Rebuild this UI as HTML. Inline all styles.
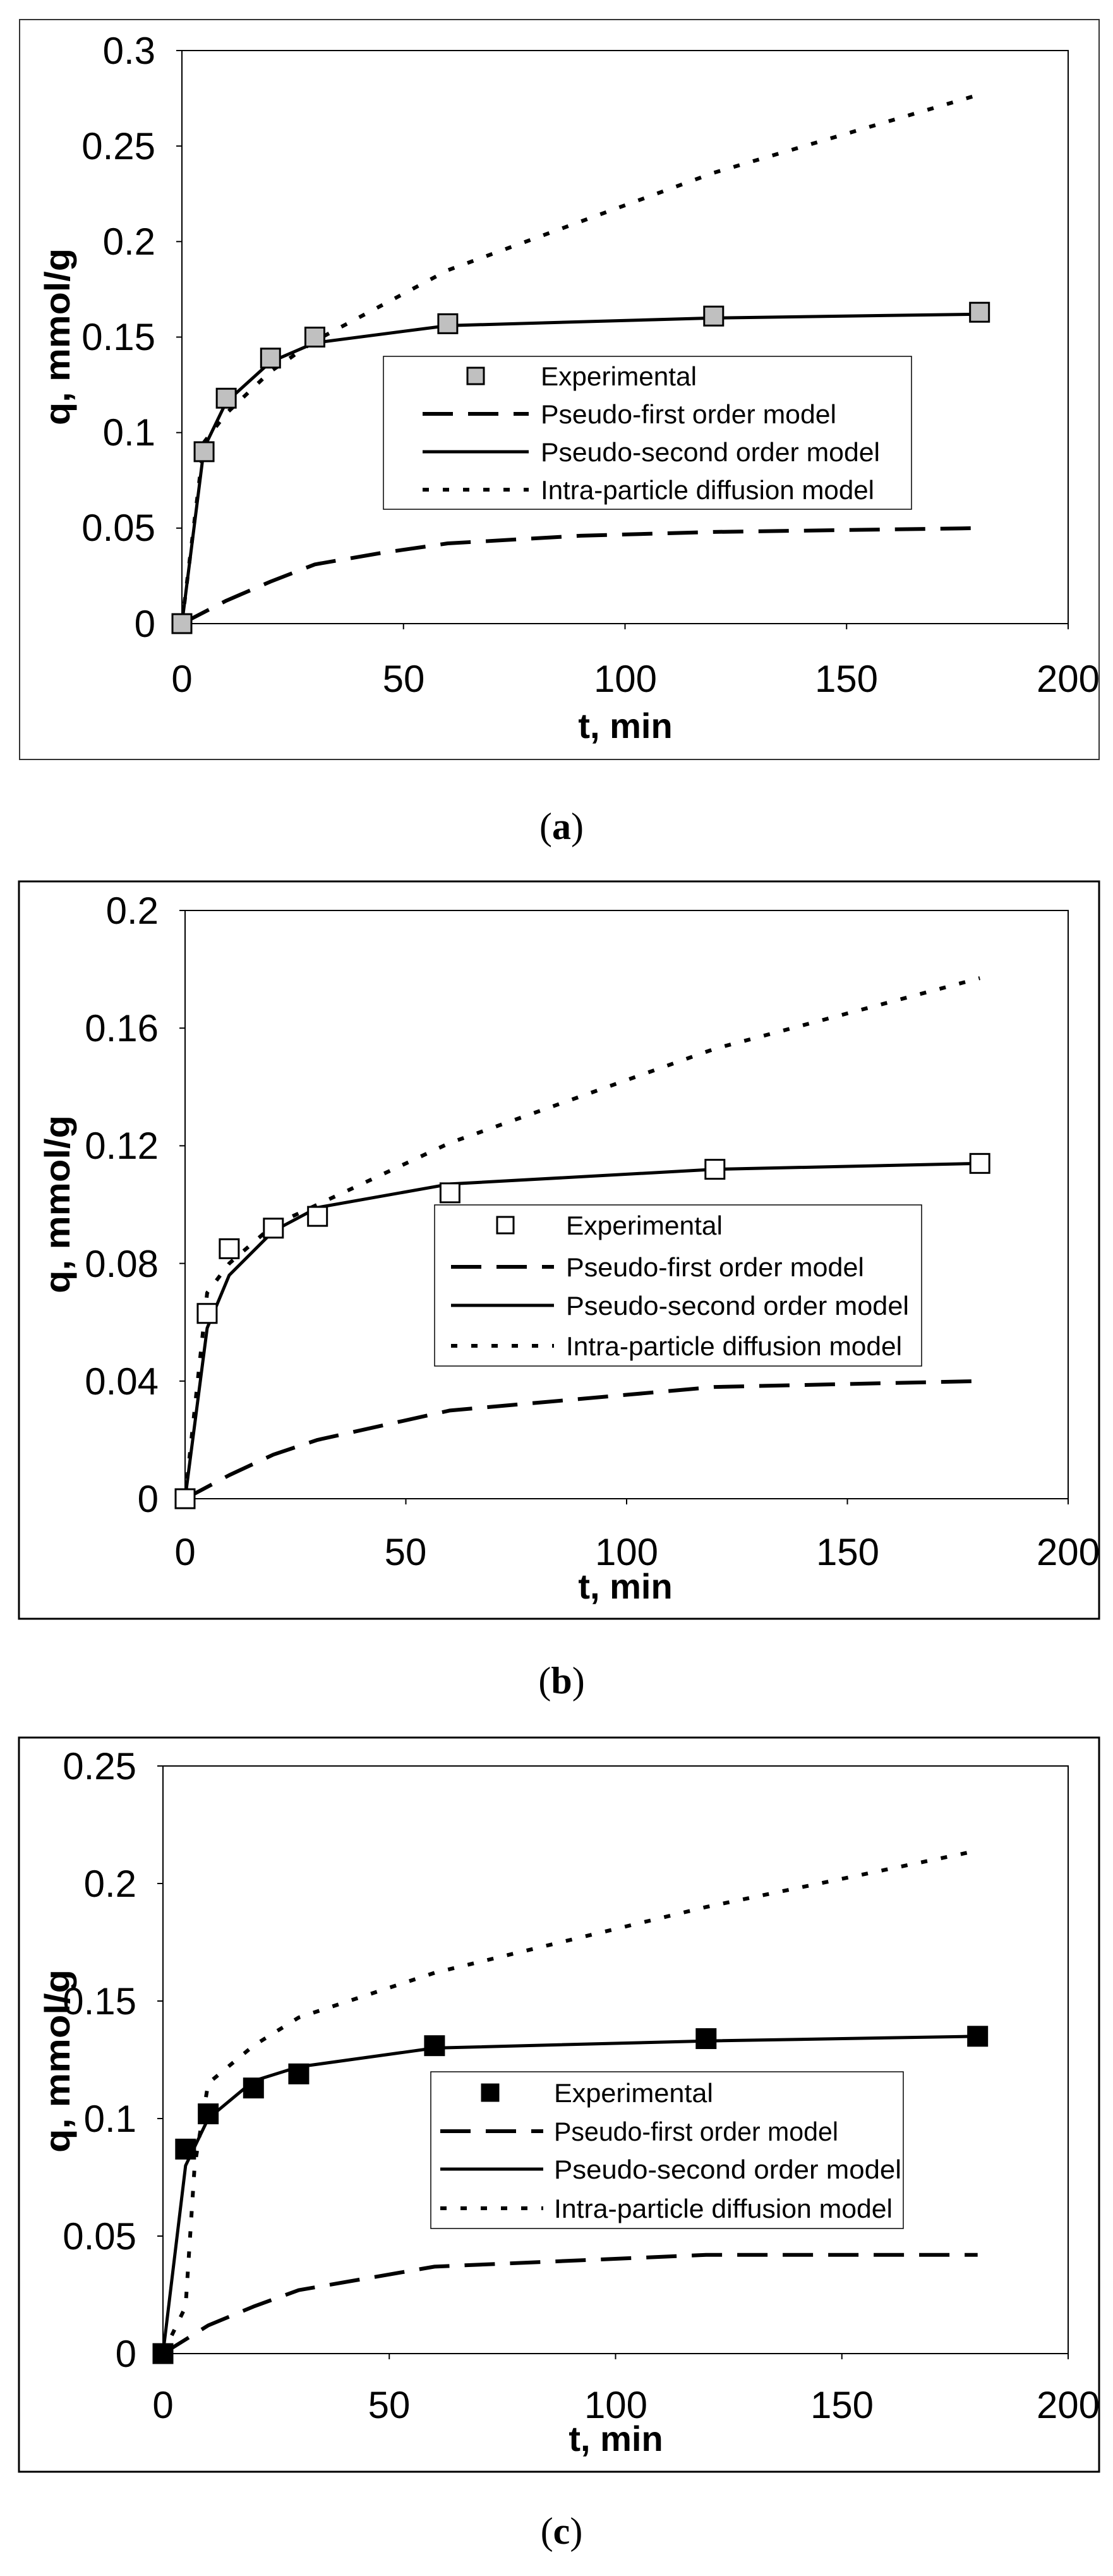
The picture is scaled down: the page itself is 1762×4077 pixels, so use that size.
<!DOCTYPE html>
<html><head><meta charset="utf-8"><style>
html,body{margin:0;padding:0;background:#fff;width:1762px;height:4077px;overflow:hidden}
svg{display:block}
.t{font-family:"Liberation Sans",Arial,sans-serif;font-size:60px;fill:#000}
.lg{font-family:"Liberation Sans",Arial,sans-serif;font-size:42px;fill:#000}
.ax{font-family:"Liberation Sans",Arial,sans-serif;font-size:56px;font-weight:bold;fill:#000}
.cap{font-family:"Liberation Serif",serif;font-size:60px;fill:#000}
</style></head><body>
<svg id="s" xmlns="http://www.w3.org/2000/svg" width="1762" height="4077" viewBox="0 0 1762 4077">
<rect width="1762" height="4077" fill="#fff"/>
<rect x="31" y="31" width="1709" height="1171" fill="none" stroke="#333" stroke-width="2"/>
<rect x="30" y="1395" width="1710" height="1167" fill="none" stroke="#000" stroke-width="3"/>
<rect x="30" y="2750" width="1710" height="1162" fill="none" stroke="#000" stroke-width="3"/>
<g id="g"></g>
<g class="t" text-anchor="end">
<text x="246" y="101">0.3</text><text x="246" y="252">0.25</text><text x="246" y="403">0.2</text><text x="246" y="554">0.15</text><text x="246" y="705">0.1</text><text x="246" y="856">0.05</text><text x="246" y="1008">0</text>
</g>
<g class="t" text-anchor="middle">
<text x="288" y="1095">0</text><text x="639" y="1095">50</text><text x="990" y="1095">100</text><text x="1340" y="1095">150</text><text x="1691" y="1095">200</text>
</g>
<text class="ax" x="990" y="1168" text-anchor="middle">t, min</text>
<text class="ax" transform="translate(110,533) rotate(-90)" text-anchor="middle" textLength="280" lengthAdjust="spacingAndGlyphs">q, mmol/g</text>
<rect x="607" y="564" width="836" height="242" fill="#fff" stroke="#000" stroke-width="1.5"/>
<g class="lg">
<text x="856" y="610" textLength="247" lengthAdjust="spacingAndGlyphs">Experimental</text>
<text x="856" y="670" textLength="468" lengthAdjust="spacingAndGlyphs">Pseudo-first order model</text>
<text x="856" y="730" textLength="537" lengthAdjust="spacingAndGlyphs">Pseudo-second order model</text>
<text x="856" y="790" textLength="528" lengthAdjust="spacingAndGlyphs">Intra-particle diffusion model</text>
</g>
<text class="cap" x="889" y="1328" text-anchor="middle">(<tspan font-weight="bold">a</tspan>)</text>
<g class="t" text-anchor="end">
<text x="251" y="1462">0.2</text><text x="251" y="1648">0.16</text><text x="251" y="1834">0.12</text><text x="251" y="2021">0.08</text><text x="251" y="2207">0.04</text><text x="251" y="2393">0</text>
</g>
<g class="t" text-anchor="middle">
<text x="293" y="2477">0</text><text x="642" y="2477">50</text><text x="992" y="2477">100</text><text x="1342" y="2477">150</text><text x="1691" y="2477">200</text>
</g>
<text class="ax" x="990" y="2530" text-anchor="middle">t, min</text>
<text class="ax" transform="translate(110,1906) rotate(-90)" text-anchor="middle" textLength="282" lengthAdjust="spacingAndGlyphs">q, mmol/g</text>
<rect x="688" y="1907" width="771" height="255" fill="#fff" stroke="#000" stroke-width="1.5"/>
<g class="lg">
<text x="896" y="1954" textLength="248" lengthAdjust="spacingAndGlyphs">Experimental</text>
<text x="896" y="2020" textLength="472" lengthAdjust="spacingAndGlyphs">Pseudo-first order model</text>
<text x="896" y="2081" textLength="543" lengthAdjust="spacingAndGlyphs">Pseudo-second order model</text>
<text x="896" y="2145" textLength="532" lengthAdjust="spacingAndGlyphs">Intra-particle diffusion model</text>
</g>
<text class="cap" x="889" y="2680" text-anchor="middle">(<tspan font-weight="bold">b</tspan>)</text>
<g class="t" text-anchor="end">
<text x="216" y="2816">0.25</text><text x="216" y="3002">0.2</text><text x="216" y="3188">0.15</text><text x="216" y="3374">0.1</text><text x="216" y="3560">0.05</text><text x="216" y="3746">0</text>
</g>
<g class="t" text-anchor="middle">
<text x="258" y="3827">0</text><text x="616" y="3827">50</text><text x="975" y="3827">100</text><text x="1333" y="3827">150</text><text x="1691" y="3827">200</text>
</g>
<text class="ax" x="975" y="3879" text-anchor="middle">t, min</text>
<text class="ax" transform="translate(110,3262) rotate(-90)" text-anchor="middle" textLength="290" lengthAdjust="spacingAndGlyphs">q, mmol/g</text>
<rect x="682" y="3279" width="748" height="248" fill="#fff" stroke="#000" stroke-width="1.5"/>
<g class="lg">
<text x="877" y="3327" textLength="252" lengthAdjust="spacingAndGlyphs">Experimental</text>
<text x="877" y="3388" textLength="450" lengthAdjust="spacingAndGlyphs">Pseudo-first order model</text>
<text x="877" y="3448" textLength="550" lengthAdjust="spacingAndGlyphs">Pseudo-second order model</text>
<text x="877" y="3510" textLength="536" lengthAdjust="spacingAndGlyphs">Intra-particle diffusion model</text>
</g>
<text class="cap" x="889" y="4026" text-anchor="middle">(<tspan font-weight="bold">c</tspan>)</text>
<g id="leg"></g>
</svg>
<script>
var NS="http://www.w3.org/2000/svg";
function el(parent,tag,attrs){var e=document.createElementNS(NS,tag);for(var k in attrs)e.setAttribute(k,attrs[k]);parent.appendChild(e);return e;}
var g=document.getElementById('g'), leg=document.getElementById('leg');
var P=[
 {L:288,R:1691,T:80,B:987,ym:0.3,st:0.05,fill:'#c0c0c0',
  exp:[[0,0],[5,0.09],[10,0.118],[20,0.139],[30,0.15],[60,0.157],[120,0.161],[180,0.163]],
  pso:[[0,0],[5,0.092],[10,0.116],[20,0.137],[30,0.147],[60,0.156],[120,0.16],[180,0.162]],
  pfo:[[0,0],[10,0.012],[20,0.022],[30,0.031],[45,0.037],[60,0.042],[90,0.046],[120,0.048],[180,0.05]],
  ipd:[[0,0],[5,0.095],[10,0.11],[20,0.132],[30,0.148],[60,0.185],[120,0.236],[180,0.277]],
  rows:[595,655,715,775],lx1:669,lx2:837,mx:753},
 {L:293,R:1691,T:1441,B:2372,ym:0.2,st:0.04,fill:'#fff',
  exp:[[0,0],[5,0.063],[10,0.085],[20,0.092],[30,0.096],[60,0.104],[120,0.112],[180,0.114]],
  pso:[[0,0],[5,0.058],[10,0.076],[20,0.091],[30,0.099],[60,0.107],[120,0.112],[180,0.114]],
  pfo:[[0,0],[10,0.008],[20,0.015],[30,0.02],[60,0.03],[120,0.038],[180,0.04]],
  ipd:[[0,0],[5,0.07],[10,0.08],[20,0.093],[30,0.1],[60,0.121],[120,0.153],[180,0.177]],
  rows:[1939,2005,2066,2130],lx1:714,lx2:877,mx:800},
 {L:258,R:1691,T:2795,B:3725,ym:0.25,st:0.05,fill:'#000',
  exp:[[0,0],[5,0.087],[10,0.102],[20,0.113],[30,0.119],[60,0.131],[120,0.134],[180,0.135]],
  pso:[[0,0],[5,0.08],[10,0.1],[20,0.116],[30,0.122],[60,0.13],[120,0.133],[180,0.135]],
  pfo:[[0,0],[10,0.012],[20,0.02],[30,0.027],[60,0.037],[120,0.042],[180,0.042]],
  ipd:[[0,0],[5,0.02],[7,0.08],[10,0.115],[20,0.131],[30,0.143],[60,0.162],[120,0.19],[180,0.214]],
  rows:[3312,3373,3433,3495],lx1:697,lx2:860,mx:776}
];
P.forEach(function(p){
 var X=function(t){return p.L+(p.R-p.L)*t/200;}, Y=function(q){return p.B-(p.B-p.T)*q/p.ym;};
 el(g,'rect',{x:p.L,y:p.T,width:p.R-p.L,height:p.B-p.T,fill:'none',stroke:'#000','stroke-width':2});
 for(var t=0;t<=200;t+=50)el(g,'line',{x1:X(t),y1:p.B,x2:X(t),y2:p.B+9,stroke:'#000','stroke-width':2});
 for(var q=0;q<=p.ym+1e-9;q+=p.st)el(g,'line',{x1:p.L-9,y1:Y(q),x2:p.L,y2:Y(q),stroke:'#000','stroke-width':2});
 function pl(d,dash,w){el(g,'polyline',{points:d.map(function(a){return X(a[0])+','+Y(a[1]);}).join(' '),fill:'none',stroke:'#000','stroke-width':w,'stroke-dasharray':dash,'stroke-linejoin':'round'});}
 pl(p.pfo,'48 24',6);
 pl(p.ipd,'10 22',6);
 pl(p.pso,'none',5);
 p.exp.forEach(function(a){el(g,'rect',{x:X(a[0])-15,y:Y(a[1])-15,width:30,height:30,fill:p.fill,stroke:'#000','stroke-width':3});});
 el(leg,'rect',{x:p.mx-13,y:p.rows[0]-13,width:26,height:26,fill:p.fill,stroke:'#000','stroke-width':3});
 el(leg,'line',{x1:p.lx1,y1:p.rows[1],x2:p.lx2,y2:p.rows[1],stroke:'#000','stroke-width':6,'stroke-dasharray':'48 24'});
 el(leg,'line',{x1:p.lx1,y1:p.rows[2],x2:p.lx2,y2:p.rows[2],stroke:'#000','stroke-width':5});
 el(leg,'line',{x1:p.lx1,y1:p.rows[3],x2:p.lx2,y2:p.rows[3],stroke:'#000','stroke-width':6,'stroke-dasharray':'10 22'});
});
</script>
</body></html>
